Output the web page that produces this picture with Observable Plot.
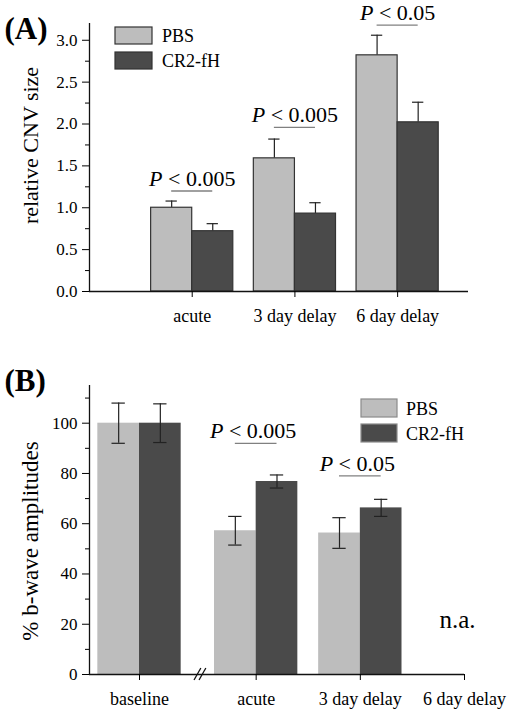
<!DOCTYPE html>
<html><head><meta charset="utf-8">
<script src="https://cdn.jsdelivr.net/npm/d3@7"></script>
<script src="https://cdn.jsdelivr.net/npm/@observablehq/plot@0.6"></script>
<style>
body{margin:0;background:#fff}
#wrap{position:relative;width:511px;height:714px;overflow:hidden}
#a{position:absolute;left:0;top:0}
#b{position:absolute;left:0;top:360px}
svg text{font-family:"Liberation Serif","DejaVu Serif",serif}
</style></head><body><div id="wrap"><div id="a"></div><div id="b"></div></div>
<script>
// ---------- data ----------
const series = ["PBS", "CR2-fH"];

// Panel A: relative CNV size
const categoriesA = ["acute", "3 day delay", "6 day delay"];
const pbsA    = [1.00, 1.59, 2.82];
const pbsErrA = [0.08, 0.23, 0.24];
const cr2A    = [0.72, 0.93, 2.02];
const cr2ErrA = [0.09, 0.13, 0.24];
const pTextA  = ["P < 0.005", "P < 0.005", "P < 0.05"];
const pLevelA = [1.20, 1.96, 3.18];
const yTicksA = [0, 0.5, 1.0, 1.5, 2.0, 2.5, 3.0];

// Panel B: % b-wave amplitudes
const categoriesB = ["baseline", "acute", "3 day delay", "6 day delay"];
const pbsB    = [100, 57.2, 56.3, null];
const pbsErrB = [8.0, 5.7, 6.1, null];
const cr2B    = [100, 76.8, 66.3, null];
const cr2ErrB = [7.7, 2.6, 3.4, null];
const pTextB  = [null, "P < 0.005", "P < 0.05", null];
const pLevelB = [null, 92, 79, null];
const naTextB = [null, null, null, "n.a."];
const naLevelB = 18.7;
const yTicksB = [0, 20, 40, 60, 80, 100];

// ---------- layout / style ----------
const FONT = "Liberation Serif";
const colors = ["#bdbdbd", "#4a4a4a"];
const W = 0.4;                       // bar width in x units
const posA = categoriesA.map((c, i) => i + 1);
const posB = [0.48, 1.6, 2.6, 3.6];  // broken axis between baseline and acute

function rows(cats, pos, pbs, pbsErr, cr2, cr2Err) {
  const out = [];
  cats.forEach((c, i) => {
    if (pbs[i] != null) out.push({cat: c, series: series[0], x1: pos[i] - W, x2: pos[i], xc: pos[i] - W / 2, v: pbs[i], e: pbsErr[i]});
    if (cr2[i] != null) out.push({cat: c, series: series[1], x1: pos[i], x2: pos[i] + W, xc: pos[i] + W / 2, v: cr2[i], e: cr2Err[i]});
  });
  return out;
}

function italicP(svg) {
  d3.select(svg).selectAll("text").each(function () {
    const s = this.textContent;
    if (/^P </.test(s)) {
      const t = d3.select(this);
      t.selectAll("*").remove();
      t.text(null);
      t.append("tspan").attr("font-style", "italic").text("P");
      t.append("tspan").text(s.slice(1));
    }
  });
}

function legend(svg, x, y0, w, h, gap, tx, stroke) {
  const g = d3.select(svg).append("g").attr("text-anchor", "start");
  series.forEach((s, i) => {
    g.append("rect").attr("x", x).attr("y", y0 + i * gap).attr("width", w).attr("height", h)
      .attr("fill", colors[i]).attr("stroke", stroke).attr("stroke-width", 1.2);
    g.append("text").attr("x", tx).attr("y", y0 + i * gap + h - 2.5).attr("text-anchor", "start")
      .attr("font-size", 18).attr("fill", "#000").text(s);
  });
}

// ---------- Panel A ----------
const dA = rows(categoriesA, posA, pbsA, pbsErrA, cr2A, cr2ErrA);
const annA = categoriesA.map((c, i) => ({t: pTextA[i], y: pLevelA[i], x: posA[i], x1: posA[i] - W / 2, x2: posA[i] + W / 2}));
const labA = new Map(posA.map((p, i) => [p, categoriesA[i]]));

const chartA = Plot.plot({
  width: 511, height: 345,
  marginLeft: 89, marginRight: 43, marginTop: 23, marginBottom: 54,
  style: {fontFamily: FONT, fontSize: "17px", color: "#000", background: "#fff"},
  x: {domain: [0, 3.69]},
  y: {domain: [0, 3.2]},
  color: {domain: series, range: colors},
  marks: [
    Plot.ruleX(dA, {x: "xc", y1: "v", y2: d => d.v + d.e, stroke: "#222", strokeWidth: 1.2}),
    Plot.ruleY(dA, {y: d => d.v + d.e, x1: d => d.xc - 0.055, x2: d => d.xc + 0.055, stroke: "#222", strokeWidth: 1.2}),
    Plot.rect(dA, {x1: "x1", x2: "x2", y1: 0, y2: "v", fill: "series", stroke: "#333", strokeWidth: 1.2}),
    Plot.ruleY(annA, {y: "y", x1: "x1", x2: "x2", stroke: "#808080", strokeWidth: 1.3}),
    Plot.text(annA, {x: "x", y: "y", text: "t", dy: -5, lineAnchor: "bottom", fontSize: 22}),
    Plot.axisY({ticks: yTicksA, tickFormat: d => d.toFixed(1), tickSize: 7, tickPadding: 5, fontSize: 17, label: null}),
    Plot.axisY({ticks: d3.range(0.25, 3.2, 0.5), tickSize: 4, tickFormat: () => "", label: null}),
    Plot.ruleX([0], {stroke: "#111", strokeWidth: 1.3}),
    Plot.ruleY([0], {stroke: "#111", strokeWidth: 1.3}),
    Plot.axisX({ticks: posA, tickFormat: d => labA.get(d), tickSize: 6, tickPadding: 12, fontSize: 18, label: null}),
    Plot.text(["relative CNV size"], {text: d => d, frameAnchor: "left", textAnchor: "middle", rotate: -90, dx: -59, dy: -12, fontSize: 22}),
    Plot.text(["(A)"], {text: d => d, frameAnchor: "top-left", textAnchor: "start", lineAnchor: "bottom", dx: -85, dy: 15, fontSize: 31, fontWeight: "bold"})
  ]
});
italicP(chartA);
legend(chartA, 115, 27, 37, 17, 25, 162, "#333");
document.getElementById("a").append(chartA);

// ---------- Panel B ----------
const dB = rows(categoriesB, posB, pbsB, pbsErrB, cr2B, cr2ErrB);
const annB = categoriesB.map((c, i) => ({t: pTextB[i], y: pLevelB[i], x: posB[i], x1: posB[i] - W / 2, x2: posB[i] + W / 2})).filter(d => d.t);
const naB = categoriesB.map((c, i) => ({t: naTextB[i], x: posB[i]})).filter(d => d.t);
const labB = new Map(posB.map((p, i) => [p, categoriesB[i]]));

const chartB = Plot.plot({
  width: 511, height: 354,
  marginLeft: 89, marginRight: 47, marginTop: 25, marginBottom: 40,
  style: {fontFamily: FONT, fontSize: "17px", color: "#000", background: "#fff"},
  x: {domain: [0, 3.6]},
  y: {domain: [0, 115]},
  color: {domain: series, range: colors},
  marks: [
    Plot.rect(dB, {x1: "x1", x2: "x2", y1: 0, y2: "v", fill: "series"}),
    Plot.ruleX(dB, {x: "xc", y1: d => d.v - d.e, y2: d => d.v + d.e, stroke: "#222", strokeWidth: 1.2}),
    Plot.ruleY(dB, {y: d => d.v + d.e, x1: d => d.xc - 0.064, x2: d => d.xc + 0.064, stroke: "#222", strokeWidth: 1.2}),
    Plot.ruleY(dB, {y: d => d.v - d.e, x1: d => d.xc - 0.064, x2: d => d.xc + 0.064, stroke: "#222", strokeWidth: 1.2}),
    Plot.ruleY(annB, {y: "y", x1: "x1", x2: "x2", stroke: "#808080", strokeWidth: 1.3}),
    Plot.text(annB, {x: "x", y: "y", text: "t", dy: -5, dx: -3, lineAnchor: "bottom", fontSize: 22}),
    Plot.text(naB, {x: "x", y: () => naLevelB, text: "t", dx: -7, lineAnchor: "bottom", fontSize: 25}),
    Plot.axisY({ticks: yTicksB, tickSize: 7, tickPadding: 5, fontSize: 17, label: null}),
    Plot.axisY({ticks: d3.range(10, 115, 20), tickSize: 4, tickFormat: () => "", label: null}),
    Plot.ruleX([0], {stroke: "#111", strokeWidth: 1.3}),
    Plot.ruleY([0], {stroke: "#111", strokeWidth: 1.3}),
    Plot.axisX({ticks: posB, tickFormat: d => labB.get(d), tickSize: 6, tickPadding: 12, fontSize: 18, label: null}),
    Plot.text(["% b-wave amplitudes"], {text: d => d, frameAnchor: "left", textAnchor: "middle", rotate: -90, dx: -59, dy: 11, fontSize: 23}),
    Plot.text(["(B)"], {text: d => d, frameAnchor: "top-left", textAnchor: "start", lineAnchor: "bottom", dx: -85, dy: 5, fontSize: 31, fontWeight: "bold"})
  ]
});
italicP(chartB);
legend(chartB, 361, 39, 36, 18, 25, 406, "#8a8a8a");
// axis break marks "//"
{
  const xs = chartB.scale("x"), ys = chartB.scale("y");
  const xb = xs.apply(1.065), yb = ys.apply(0);
  const g = d3.select(chartB).append("g").attr("stroke", "#111").attr("stroke-width", 1.3);
  [-2.5, 2.5].forEach(o => {
    g.append("line").attr("x1", xb + o - 3.4).attr("y1", yb + 6).attr("x2", xb + o + 3.4).attr("y2", yb - 6);
  });
}
document.getElementById("b").append(chartB);
</script>
</body></html>
